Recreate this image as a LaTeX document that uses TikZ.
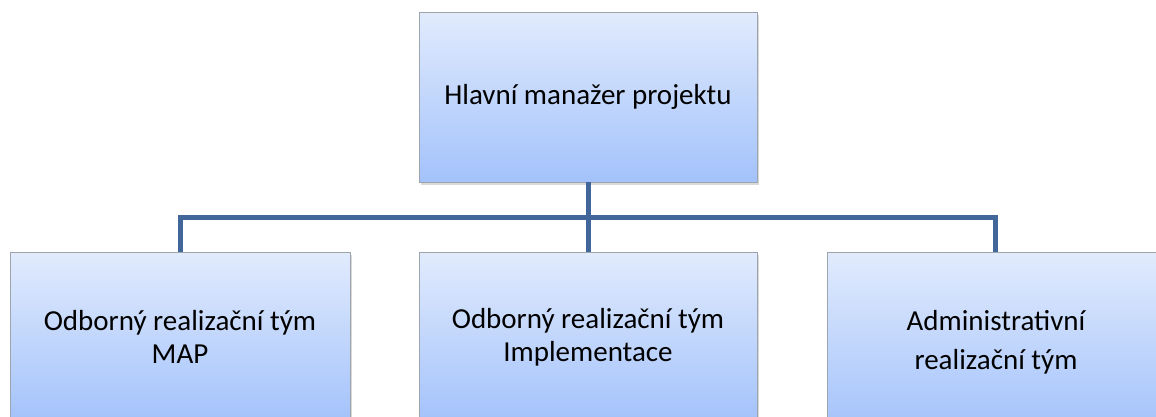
\documentclass[tikz,border=0pt]{standalone}
\usepackage{fontspec}
\setmainfont{Carlito}
\usetikzlibrary{shadows}
\definecolor{boxtop}{HTML}{E1EBFD}
\definecolor{boxbot}{HTML}{A3C2FB}
\definecolor{boxline}{HTML}{9EA4AC}
\definecolor{conncol}{HTML}{41679A}
\begin{document}
\begin{tikzpicture}[x=1pt,y=-1pt,
  orgbox/.style={rectangle, draw=boxline, line width=0.8pt, top color=boxtop, bottom color=boxbot,
    minimum width=338pt, minimum height=170pt, align=center, inner sep=0pt,
    font=\fontsize{29}{33}\selectfont,
    drop shadow={opacity=0.3, shadow xshift=1.5pt, shadow yshift=-2.5pt}},
  conn/.style={draw=conncol, line width=5pt}]
\useasboundingbox (0,0) rectangle (1156,416);
\node[orgbox] (top) at (588,97) {Hlavní manažer projektu};
\node[orgbox, minimum width=340pt] (a) at (180,337) {Odborný realizační tým\\MAP};
\node[orgbox] (b) at (588,337) {Odborný realizační tým\\Implementace};
\node[orgbox, minimum height=180pt, font=\fontsize{29}{39}\selectfont] (c) at (996,342) {Administrativní\\realizační tým};
\coordinate (j) at (588,217);
\draw[conn] (a.north) |- (j) -| ([xshift=-1pt]c.north);
\draw[conn] (top.south) -- (b.north);
\end{tikzpicture}
\end{document}
